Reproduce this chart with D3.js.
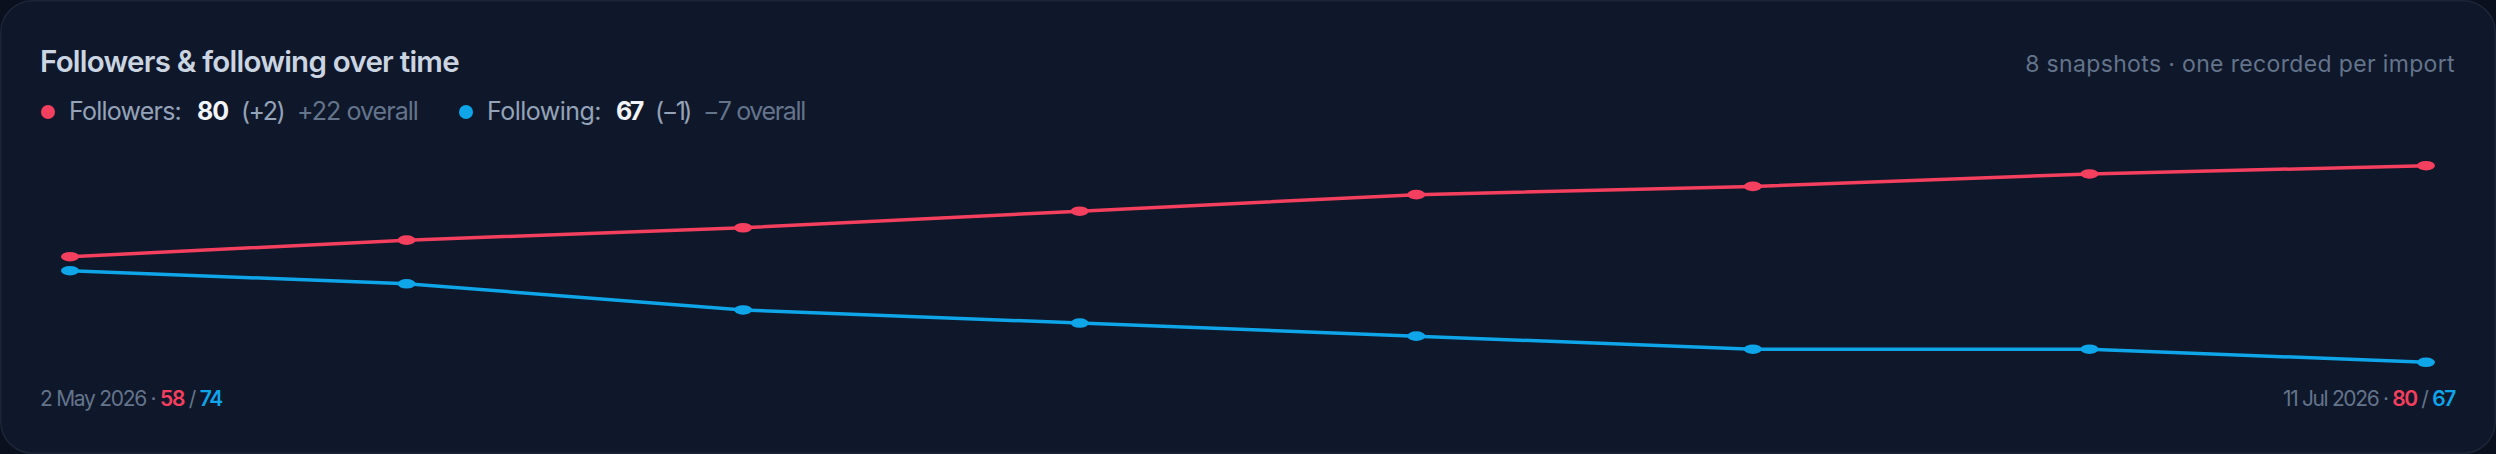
<!DOCTYPE html>
<html>
<head>
<meta charset="utf-8">
<script src="https://cdn.jsdelivr.net/npm/d3@7"></script>
<style>
  html, body { margin: 0; padding: 0; background: #0a101d; }
  svg { display: block; font-family: "Inter", "Noto Sans", sans-serif; }
</style>
</head>
<body>
<div id="chart"></div>
<script>
// Data
const snapshots = [0, 1, 2, 3, 4, 5, 6, 7];
const followers = [58, 62, 65, 69, 73, 75, 78, 80];
const following = [74, 73, 71, 70, 69, 68, 68, 67];
const firstDate = "2 May 2026";
const lastDate = "11 Jul 2026";

const W = 2496, H = 454;
const red = "#f43f5e", blue = "#0ea5e9";

const svg = d3.select("#chart")
  .append("svg")
    .attr("width", W)
    .attr("height", H);

// Card
svg.append("rect")
  .attr("x", 0.75).attr("y", 0.75)
  .attr("width", W - 1.5).attr("height", H - 1.5)
  .attr("rx", 32)
  .attr("fill", "#0f172a")
  .attr("stroke", "#1c2638")
  .attr("stroke-width", 1.5);

// squeeze/stretch text so it matches the reference widths
function fit(sel, target) {
  const n = sel.text().length;
  const w = sel.node().getComputedTextLength();
  sel.attr("letter-spacing", ((target - w) / n).toFixed(2));
}

// Header
svg.append("text")
  .attr("x", 40).attr("y", 72)
  .attr("font-size", 29.5).attr("font-weight", 600)
  .attr("fill", "#cbd5e1")
  .text("Followers & following over time")
  .call(fit, 419);

svg.append("text")
  .attr("x", 2455).attr("y", 72)
  .attr("text-anchor", "end")
  .attr("font-size", 23).attr("fill", "#64748b")
  .text(`${snapshots.length} snapshots · one recorded per import`)
  .call(fit, 430);

// Legend
const last = a => a[a.length - 1];
const legend = [
  { name: "Followers", vals: followers, color: red, dot: 48, x: [69, 197, 241, 297], w: [112, 31, 43, 121] },
  { name: "Following", vals: following, color: blue, dot: 466, x: [487, 616, 655, 703], w: [114, 26, 35, 102] }
];
const sign = v => (v > 0 ? "+" : v < 0 ? "\u2212" : "±") + Math.abs(v);

legend.forEach(l => {
  const v = l.vals, n = v.length;
  svg.append("circle")
    .attr("cx", l.dot).attr("cy", 112).attr("r", 7)
    .attr("fill", l.color);
  const parts = [
    { t: l.name + ":", fill: "#94a3b8", weight: 400 },
    { t: String(last(v)), fill: "#f1f5f9", weight: 700 },
    { t: "(" + sign(v[n - 1] - v[n - 2]) + ")", fill: "#94a3b8", weight: 400 },
    { t: sign(v[n - 1] - v[0]) + " overall", fill: "#64748b", weight: 400 }
  ];
  parts.forEach((p, i) => {
    svg.append("text")
      .attr("x", l.x[i]).attr("y", 120)
      .attr("font-size", 25).attr("font-weight", p.weight)
      .attr("fill", p.fill)
      .text(p.t)
      .call(fit, l.w[i]);
  });
});

// Scales: each series has its own vertical band
const x = d3.scalePoint()
  .domain(snapshots)
  .range([70, 2426]);

const yF = d3.scaleLinear()
  .domain(d3.extent(followers))
  .range([256.7, 165.7]);

const yG = d3.scaleLinear()
  .domain(d3.extent(following))
  .range([362.3, 270.7]);

const series = [
  { vals: followers, y: yF, color: red },
  { vals: following, y: yG, color: blue }
];

series.forEach(s => {
  const line = d3.line()
    .x((d, i) => x(snapshots[i]))
    .y(d => s.y(d));

  svg.append("path")
    .datum(s.vals)
    .attr("fill", "none")
    .attr("stroke", s.color)
    .attr("stroke-width", 3.5)
    .attr("stroke-linejoin", "round")
    .attr("d", line);

  svg.selectAll(null)
    .data(s.vals)
    .join("ellipse")
    .attr("cx", (d, i) => x(snapshots[i]))
    .attr("cy", d => s.y(d))
    .attr("rx", 9)
    .attr("ry", 4.8)
    .attr("fill", s.color);
});

// Footer labels: first and last snapshot
function footer(xPos, anchor, date, a, b, target) {
  const t = svg.append("text")
    .attr("x", xPos).attr("y", 406)
    .attr("text-anchor", anchor)
    .attr("font-size", 21)
    .attr("fill", "#64748b");
  t.append("tspan").text(date + " · ");
  t.append("tspan").attr("fill", red).attr("font-weight", 600).text(a);
  t.append("tspan").text(" / ");
  t.append("tspan").attr("fill", blue).attr("font-weight", 600).text(b);
  t.call(fit, target);
}
footer(40, "start", firstDate, followers[0], following[0], 182);
footer(2455, "end", lastDate, last(followers), last(following), 172);
</script>
</body>
</html>
